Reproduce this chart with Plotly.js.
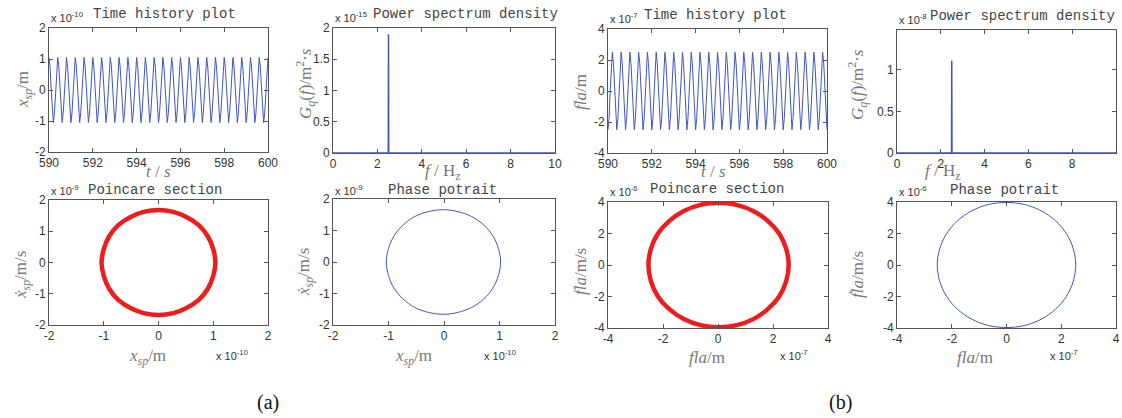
<!DOCTYPE html>
<html>
<head>
<meta charset="utf-8">
<script src="https://cdn.plot.ly/plotly-3.0.1.min.js"></script>
<style>html,body{margin:0;padding:0;background:#fff;}#chart{width:1122px;height:418px;}</style>
</head>
<body>
<div id="chart"></div>
<script>
// ---------------- DATA ----------------
// Time history (a): x_sp in units of 1e-10 m, sampled every 0.05 s from t = 590 s
const histStart = 590;
const histStep = 0.05;
const xspHistory = [
1.05,0.74,0,-0.74,-1.05,-0.74,0,0.74,
1.05,0.74,0,-0.74,-1.05,-0.74,0,0.74,
1.05,0.74,0,-0.74,-1.05,-0.74,0,0.74,
1.05,0.74,0,-0.74,-1.05,-0.74,0,0.74,
1.05,0.74,0,-0.74,-1.05,-0.74,0,0.74,
1.05,0.74,0,-0.74,-1.05,-0.74,0,0.74,
1.05,0.74,0,-0.74,-1.05,-0.74,0,0.74,
1.05,0.74,0,-0.74,-1.05,-0.74,0,0.74,
1.05,0.74,0,-0.74,-1.05,-0.74,0,0.74,
1.05,0.74,0,-0.74,-1.05,-0.74,0,0.74,
1.05,0.74,0,-0.74,-1.05,-0.74,0,0.74,
1.05,0.74,0,-0.74,-1.05,-0.74,0,0.74,
1.05,0.74,0,-0.74,-1.05,-0.74,0,0.74,
1.05,0.74,0,-0.74,-1.05,-0.74,0,0.74,
1.05,0.74,0,-0.74,-1.05,-0.74,0,0.74,
1.05,0.74,0,-0.74,-1.05,-0.74,0,0.74,
1.05,0.74,0,-0.74,-1.05,-0.74,0,0.74,
1.05,0.74,0,-0.74,-1.05,-0.74,0,0.74,
1.05,0.74,0,-0.74,-1.05,-0.74,0,0.74,
1.05,0.74,0,-0.74,-1.05,-0.74,0,0.74,
1.05,0.74,0,-0.74,-1.05,-0.74,0,0.74,
1.05,0.74,0,-0.74,-1.05,-0.74,0,0.74,
1.05,0.74,0,-0.74,-1.05,-0.74,0,0.74,
1.05,0.74,0,-0.74,-1.05,-0.74,0,0.74,
1.05,0.74,0,-0.74,-1.05,-0.74,0,0.74,
1.05
];
// Time history (b): fla in units of 1e-7 m
const flaHistory = [
-2.5,-1.77,0,1.77,2.5,1.77,0,-1.77,
-2.5,-1.77,0,1.77,2.5,1.77,0,-1.77,
-2.5,-1.77,0,1.77,2.5,1.77,0,-1.77,
-2.5,-1.77,0,1.77,2.5,1.77,0,-1.77,
-2.5,-1.77,0,1.77,2.5,1.77,0,-1.77,
-2.5,-1.77,0,1.77,2.5,1.77,0,-1.77,
-2.5,-1.77,0,1.77,2.5,1.77,0,-1.77,
-2.5,-1.77,0,1.77,2.5,1.77,0,-1.77,
-2.5,-1.77,0,1.77,2.5,1.77,0,-1.77,
-2.5,-1.77,0,1.77,2.5,1.77,0,-1.77,
-2.5,-1.77,0,1.77,2.5,1.77,0,-1.77,
-2.5,-1.77,0,1.77,2.5,1.77,0,-1.77,
-2.5,-1.77,0,1.77,2.5,1.77,0,-1.77,
-2.5,-1.77,0,1.77,2.5,1.77,0,-1.77,
-2.5,-1.77,0,1.77,2.5,1.77,0,-1.77,
-2.5,-1.77,0,1.77,2.5,1.77,0,-1.77,
-2.5,-1.77,0,1.77,2.5,1.77,0,-1.77,
-2.5,-1.77,0,1.77,2.5,1.77,0,-1.77,
-2.5,-1.77,0,1.77,2.5,1.77,0,-1.77,
-2.5,-1.77,0,1.77,2.5,1.77,0,-1.77,
-2.5,-1.77,0,1.77,2.5,1.77,0,-1.77,
-2.5,-1.77,0,1.77,2.5,1.77,0,-1.77,
-2.5,-1.77,0,1.77,2.5,1.77,0,-1.77,
-2.5,-1.77,0,1.77,2.5,1.77,0,-1.77,
-2.5,-1.77,0,1.77,2.5,1.77,0,-1.77,
-2.5
];
// Power spectrum density
const psdFreq = [0, 2.49, 2.5, 2.51, 10];
const psdA = [0, 0, 1.9, 0, 0];    // x 1e-15
const psdB = [0, 0, 1.11, 0, 0];   // x 1e-8
// Poincare section (a): x_sp (1e-10 m), x_sp dot (1e-9 m/s)
const poinAx = [1.04,1.00,0.90,0.74,0.52,0.27,0,-0.27,-0.52,-0.74,-0.90,-1.00,-1.04,-1.00,-0.90,-0.74,-0.52,-0.27,0,0.27,0.52,0.74,0.90,1.00,1.04];
const poinAv = [0,0.43,0.84,1.19,1.45,1.62,1.68,1.62,1.45,1.19,0.84,0.43,0,-0.43,-0.84,-1.19,-1.45,-1.62,-1.68,-1.62,-1.45,-1.19,-0.84,-0.43,0];
// Phase portrait (a)
const phaseAx = [1.02,0.98,0.88,0.72,0.50,0.25,-0.01,-0.28,-0.53,-0.74,-0.90,-1.00,-1.04,-1.00,-0.90,-0.74,-0.53,-0.28,-0.01,0.25,0.50,0.72,0.88,0.98,1.02];
const phaseAv = [0,0.43,0.83,1.17,1.44,1.60,1.66,1.60,1.44,1.17,0.83,0.43,0,-0.43,-0.83,-1.17,-1.44,-1.60,-1.66,-1.60,-1.44,-1.17,-0.83,-0.43,0];
// Poincare section (b): fla (1e-7 m), fla dot (1e-6 m/s)
const poinBx = [2.57,2.48,2.23,1.82,1.30,0.68,0.02,-0.64,-1.26,-1.78,-2.19,-2.44,-2.53,-2.44,-2.19,-1.78,-1.26,-0.64,0.02,0.68,1.30,1.82,2.23,2.48,2.57];
const poinBv = [0,1.02,1.98,2.79,3.42,3.82,3.95,3.82,3.42,2.79,1.98,1.02,0,-1.02,-1.98,-2.79,-3.42,-3.82,-3.95,-3.82,-3.42,-2.79,-1.98,-1.02,0];
// Phase portrait (b)
const phaseBx = [2.53,2.44,2.19,1.79,1.27,0.66,0,-0.66,-1.27,-1.79,-2.19,-2.44,-2.53,-2.44,-2.19,-1.79,-1.27,-0.66,0,0.66,1.27,1.79,2.19,2.44,2.53];
const phaseBv = [0,1.03,1.99,2.81,3.44,3.84,3.97,3.84,3.44,2.81,1.99,1.03,0,-1.03,-1.99,-2.81,-3.44,-3.84,-3.97,-3.84,-3.44,-2.81,-1.99,-1.03,0];

// Ticks
const histTicks = [590,592,594,596,598,600];
const freqTicks = [0,2,4,6,8,10];
const ticksA2 = [-2,-1,0,1,2];
const ticks4 = [-4,-2,0,2,4];
const psdATicks = [0,0.5,1,1.5,2];
const psdBTicks = [0,0.5,1];

// ---------------- LAYOUT ----------------
const W = 1122, H = 418;
const fx = p => p / W;
const fy = p => 1 - p / H;
const BLUE = '#3f56c2';
const RED = '#ee1c1c';
const AX = '#555';

function axis(dom, range, tickvals, anchor, isY) {
  return {
    domain: isY ? [fy(dom[1]), fy(dom[0])] : [fx(dom[0]), fx(dom[1])],
    range: range, tickvals: tickvals, ticktext: tickvals.map(String),
    anchor: anchor, showline: true, mirror: 'ticks', linecolor: AX, linewidth: 1,
    ticks: 'inside', ticklen: 4, tickcolor: AX, showgrid: false, zeroline: false,
    tickfont: {family: 'Liberation Sans, Arial, sans-serif', size: 12, color: '#333'},
    fixedrange: true, automargin: false
  };
}

const layout = {
  width: W, height: H, margin: {l: 0, r: 0, t: 0, b: 0},
  paper_bgcolor: '#fff', plot_bgcolor: '#fff', showlegend: false,
  xaxis:  axis([49, 268], [590, 600], histTicks, 'y', false),
  yaxis:  axis([28, 152], [-2, 2], ticksA2, 'x', true),
  xaxis2: axis([333, 555], [0, 10], freqTicks, 'y2', false),
  yaxis2: axis([28, 153], [0, 2], psdATicks, 'x2', true),
  xaxis3: axis([608, 827], [590, 600], histTicks, 'y3', false),
  yaxis3: axis([29, 153], [-4, 4], ticks4, 'x3', true),
  xaxis4: axis([897, 1116], [0, 10], freqTicks, 'y4', false),
  yaxis4: axis([30, 153], [0, 1.48], psdBTicks, 'x4', true),
  xaxis5: axis([49, 268], [-2, 2], ticksA2, 'y5', false),
  yaxis5: axis([200, 325], [-2, 2], ticksA2, 'x5', true),
  xaxis6: axis([333, 555], [-2, 2], ticksA2, 'y6', false),
  yaxis6: axis([199, 325], [-2, 2], ticksA2, 'x6', true),
  xaxis7: axis([608, 828], [-4, 4], ticks4, 'y7', false),
  yaxis7: axis([202, 328], [-4, 4], ticks4, 'x7', true),
  xaxis8: axis([897, 1116], [-4, 4], ticks4, 'y8', false),
  yaxis8: axis([202, 328], [-4, 4], ticks4, 'x8', true),
  annotations: []
};

const TITLEF = {family: 'Liberation Mono, DejaVu Sans Mono, monospace', size: 14, color: '#444'};
const EXPF = {family: 'Liberation Sans, Arial, sans-serif', size: 11, color: '#333'};
const LABF = {family: 'Liberation Serif, Times New Roman, serif', size: 17, color: '#777'};

function ann(x, y, text, font, opts) {
  layout.annotations.push(Object.assign({
    xref: 'paper', yref: 'paper', x: fx(x), y: fy(y), text: text, font: font,
    showarrow: false, xanchor: 'center', yanchor: 'middle'
  }, opts || {}));
}

// Titles
ann(164, 14, 'Time history plot', TITLEF);
ann(465, 14, 'Power spectrum density', TITLEF);
ann(715, 15, 'Time history plot', TITLEF);
ann(1022, 16, 'Power spectrum density', TITLEF);
ann(155, 190, 'Poincare section', TITLEF);
ann(442, 190, 'Phase potrait', TITLEF);
ann(717, 189, 'Poincare section', TITLEF);
ann(1004, 190, 'Phase potrait', TITLEF);

// Exponent labels (top-left)
ann(49, 17, 'x 10<sup>-10</sup>', EXPF, {xanchor: 'left'});
ann(333, 17, 'x 10<sup>-15</sup>', EXPF, {xanchor: 'left'});
ann(608, 18, 'x 10<sup>-7</sup>', EXPF, {xanchor: 'left'});
ann(897, 19, 'x 10<sup>-8</sup>', EXPF, {xanchor: 'left'});
ann(49, 190, 'x 10<sup>-9</sup>', EXPF, {xanchor: 'left'});
ann(333, 190, 'x 10<sup>-9</sup>', EXPF, {xanchor: 'left'});
ann(608, 191, 'x 10<sup>-6</sup>', EXPF, {xanchor: 'left'});
ann(897, 191, 'x 10<sup>-6</sup>', EXPF, {xanchor: 'left'});
// Exponent labels (bottom x axes)
ann(250, 355, 'x 10<sup>-10</sup>', EXPF, {xanchor: 'right'});
ann(518, 355, 'x 10<sup>-10</sup>', EXPF, {xanchor: 'right'});
ann(810, 355, 'x 10<sup>-7</sup>', EXPF, {xanchor: 'right'});
ann(1080, 355, 'x 10<sup>-7</sup>', EXPF, {xanchor: 'right'});

// x-axis titles
ann(158, 172, '<i>t</i> / <i>s</i>', LABF);
ann(443, 172, '<i>f</i> / H<sub>z</sub>', LABF);
ann(713, 172, '<i>t</i> / <i>s</i>', LABF);
ann(943, 172, '<i>f</i> / H<sub>z</sub>', LABF);
ann(147, 357, '<i>x</i><sub><i>sp</i></sub>/m', LABF);
ann(413, 357, '<i>x</i><sub><i>sp</i></sub>/m', LABF);
ann(707, 357, '<i>fla</i>/m', LABF);
ann(975, 357, '<i>fla</i>/m', LABF);

// y-axis titles
const rot = {textangle: -90};
ann(24, 90, '<i>x</i><sub><i>sp</i></sub>/m', LABF, rot);
ann(306, 84, '<i>G</i><sub><i>q</i></sub>(<i>f</i>)/m<sup>2</sup>·<i>s</i>', LABF, rot);
ann(580, 92, '<i>fla</i>/m', LABF, rot);
ann(858, 84, '<i>G</i><sub><i>q</i></sub>(<i>f</i>)/m<sup>2</sup>·<i>s</i>', LABF, rot);
ann(22, 275, '<i>ẋ</i><sub><i>sp</i></sub>/m/s', LABF, rot);
ann(305, 272, '<i>ẋ</i><sub><i>sp</i></sub>/m/s', LABF, rot);
ann(580, 272, '<i>fla</i>/m/s', LABF, rot);
ann(857, 275, '<i>ḟla</i>/m/s', LABF, rot);

// Panel labels
const PANF = {family: 'Liberation Serif, Times New Roman, serif', size: 20, color: '#111'};
ann(268, 402, '(a)', PANF);
ann(840, 402, '(b)', PANF);

// ---------------- TRACES ----------------
const thin = {color: BLUE, width: 1};
const data = [
  {type: 'scatter', mode: 'lines', y: xspHistory, x0: histStart, dx: histStep, line: thin, xaxis: 'x', yaxis: 'y', hoverinfo: 'skip'},
  {type: 'scatter', mode: 'lines', x: psdFreq, y: psdA, line: {color: BLUE, width: 1.5}, xaxis: 'x2', yaxis: 'y2', hoverinfo: 'skip', cliponaxis: false},
  {type: 'scatter', mode: 'lines', y: flaHistory, x0: histStart, dx: histStep, line: thin, xaxis: 'x3', yaxis: 'y3', hoverinfo: 'skip'},
  {type: 'scatter', mode: 'lines', x: psdFreq, y: psdB, line: {color: BLUE, width: 1.5}, xaxis: 'x4', yaxis: 'y4', hoverinfo: 'skip', cliponaxis: false},
  {type: 'scatter', mode: 'lines', x: poinAx, y: poinAv, line: {color: RED, width: 4.5, shape: 'spline'}, xaxis: 'x5', yaxis: 'y5', hoverinfo: 'skip'},
  {type: 'scatter', mode: 'lines', x: phaseAx, y: phaseAv, line: {color: BLUE, width: 1, shape: 'spline'}, xaxis: 'x6', yaxis: 'y6', hoverinfo: 'skip'},
  {type: 'scatter', mode: 'lines', x: poinBx, y: poinBv, line: {color: RED, width: 4.5, shape: 'spline'}, xaxis: 'x7', yaxis: 'y7', hoverinfo: 'skip', cliponaxis: false},
  {type: 'scatter', mode: 'lines', x: phaseBx, y: phaseBv, line: {color: BLUE, width: 1, shape: 'spline'}, xaxis: 'x8', yaxis: 'y8', hoverinfo: 'skip'}
];

Plotly.newPlot('chart', data, layout, {staticPlot: true, displayModeBar: false});
</script>
</body>
</html>
